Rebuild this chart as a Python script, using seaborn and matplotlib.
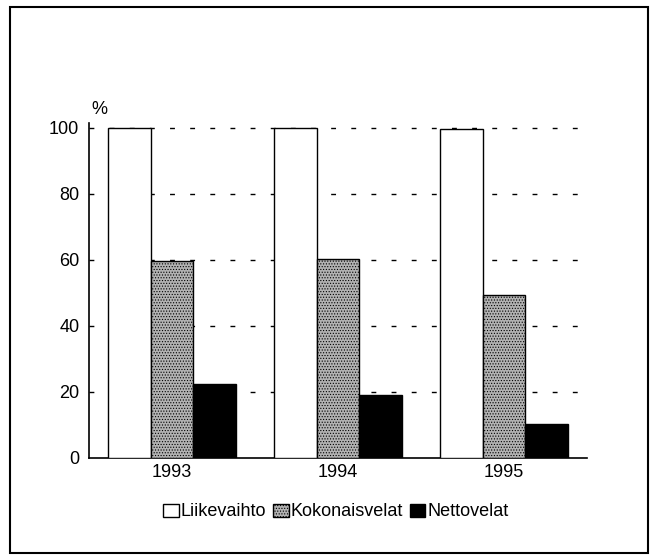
import pandas as pd
import matplotlib.pyplot as plt
import matplotlib.patches as mpatches
import seaborn as sns

# data
years = ["1993", "1994", "1995"]
series = ["Liikevaihto", "Kokonaisvelat", "Nettovelat"]
liikevaihto = [100, 100, 99.8]
kokonaisvelat = [59.8, 60.3, 49.5]
nettovelat = [22.5, 19.2, 10.4]
yticks = [0, 20, 40, 60, 80, 100]

df = pd.DataFrame({
    "year": years * 3,
    "series": [series[0]] * 3 + [series[1]] * 3 + [series[2]] * 3,
    "value": liikevaihto + kokonaisvelat + nettovelat,
})

sns.set_style("white")
plt.rcParams["font.family"] = ["Liberation Sans", "DejaVu Sans"]
plt.rcParams["hatch.linewidth"] = 0.5
plt.rcParams["text.color"] = "black"
plt.rcParams["xtick.color"] = "black"
plt.rcParams["ytick.color"] = "black"

colors = ["white", "#b2b2b2", "black"]
fs = 13

fig = plt.figure(figsize=(6.58, 5.6), dpi=100)
ax = fig.add_axes([89 / 658, 102 / 560, 498 / 658, 335 / 560])

sns.barplot(data=df, x="year", y="value", hue="series", hue_order=series,
            palette=colors, edgecolor="black", linewidth=1.0,
            width=0.77, gap=0, saturation=1, legend=False, ax=ax, zorder=3)

# stipple on the middle series
for bar in ax.containers[1]:
    bar.set_hatch("......")

ax.set_xlim(-0.5, 2.5)
ax.set_ylim(0, 101.5)
ax.set_yticks(yticks)
ax.set_xlabel("")
ax.set_ylabel("")
ax.tick_params(axis="y", direction="in", length=4, width=1, labelsize=fs, pad=7)
ax.tick_params(axis="x", length=0, labelsize=fs, pad=4)

for y in yticks[1:]:
    ax.axhline(y, color="black", lw=1, ls=(0, (3.5, 11)), zorder=1)

sns.despine(ax=ax)
ax.spines["left"].set_color("black")
ax.spines["bottom"].set_color("black")
ax.spines["left"].set_linewidth(1.2)
ax.spines["bottom"].set_linewidth(1.2)

ax.text(0.005, 1.015, "%", transform=ax.transAxes, fontsize=fs, ha="left", va="bottom")

handles = [mpatches.Patch(facecolor=c, edgecolor="black", label=s) for c, s in zip(colors, series)]
handles[1].set_hatch("......")
fig.legend(handles=handles, loc="center", bbox_to_anchor=(336 / 658, 1 - 512 / 560),
           ncol=3, frameon=False, fontsize=fs, handlelength=0.85, handleheight=0.75,
           handletextpad=0.1, columnspacing=0.4)

# outer frame
fig.patches.append(mpatches.Rectangle((10 / 658, 7 / 560), 638 / 658, 546 / 560,
                                      transform=fig.transFigure, fill=False,
                                      edgecolor="black", linewidth=1.5))

fig.savefig("out.png", dpi=100, facecolor="white")
